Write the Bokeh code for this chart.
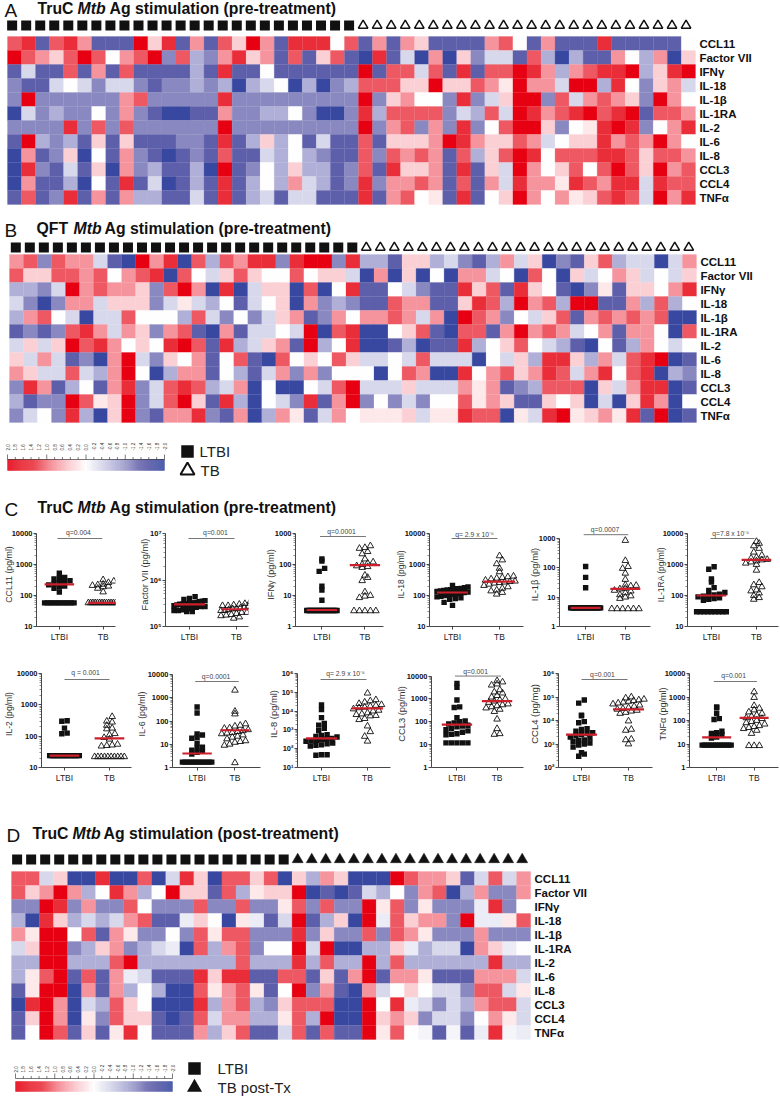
import math
import numpy as np
from bokeh.plotting import figure
from bokeh.layouts import column, row
from bokeh.models import Range1d, FixedTicker, ColumnDataSource
from bokeh.transform import linear_cmap
from bokeh.core.properties import value
from bokeh.embed import file_html
from bokeh.resources import INLINE

analytes = ["CCL11", "Factor VII", "IFN\u03b3", "IL-18", "IL-1\u03b2", "IL-1RA", "IL-2", "IL-6", "IL-8", "CCL3", "CCL4", "TNF\u03b1"]

# heat map cells; one level = 0.4 on the colour scale
A_rows = [
[3,4,-4,3,4,2,-4,-4,-4,5,1,4,-4,2,-4,3,1,5,2,-4,4,4,4,0,3,-4,2,-4,2,1,-4,-4,-4,-4,2,3,0,-4,2,-4,-4,-4,4,-4,-4,-4,-4,-4,0],
[5,3,2,1,3,5,3,0,2,3,5,-3,3,-2,-3,2,4,1,2,-4,3,-4,1,3,-4,-5,4,-4,-1,-5,2,-5,1,-3,-1,-1,-4,3,-2,-5,-2,-4,-4,2,0,-2,2,-5,1],
[-4,-1,-4,-4,3,-4,2,-4,3,-4,-4,-4,-4,-2,-4,4,-4,-4,0,-4,-4,-4,-4,-4,-4,5,-4,3,3,-1,3,-4,4,-4,3,3,5,4,2,-2,2,3,4,4,5,-2,1,4,5],
[-3,-4,-4,-1,0,-1,-3,-1,-1,-3,-4,-3,-3,-2,-3,-2,-5,-2,-1,0,-5,-2,-5,-3,-2,3,3,3,1,1,5,1,1,3,2,0.5,5,2,2,-1,5,5,-2,4,0,-3,1,2,-1],
[-3,5,-3,-3,-3,-3,-3,-3,2,3,-3,-3,-3,-3,-3,4,-3,-3,-3,-3,-3,-3,-3,-3,-3,5,-3,1,2,0,0,-3,4,-3,-1,1,5,5,-3,3,-1,2,3,2,1,-3,5,2,0],
[-5,-1,-3,-2,-3,-3,0,-3,2,-3,-4,-5,-5,-4,-4,2,-3,-3,-2,-2,0,-3,-5,-5,-3,4,-2,3,3,3,3,-3,-1,-2,3,-1,5,4,2,3,4,5,3,4,5,-4,3,3,2],
[-3,-3,-3,-3,4,-3,3,-3,3,-3,-3,-3,-3,-3,-3,5,-3,-3,-3,-3,-3,-3,-3,-3,-3,5,-3,2,3,-3,2,-3,4,-3,0,3,5,5,1,-3,0,0.5,4,5,4,-3,0,2,4],
[-4,5,-2,-3,-2,-4,1,-4,1,-4,-4,-4,-3,-3,-4,4,-4,-2,1,-2,0,-4,-1,-4,-4,3,-4,1,1,1,2,5,4,2,1,1,3,2,-1,0,1,1,4,2,3,2,5,2,0],
[-5,2,-4,-3,1,-5,0,-4,2,-3,-4,-5,-4,-3,-4,3,-4,-4,-1,-2,0,-2,-3,-4,-4,3,-3,3,2,3,2,-4,3,-2,1,3,5,4,0,3,3,3,4,4,3,1,3,3,2],
[-5,4,-3,-4,-1,-4,1,-5,2,-3,-2,-4,-4,-2,-5,5,-4,-3,0,-2,1,-2,-2,-4,-3,3,-4,4,1,1,2,-4,4,-4,1,-1,5,2,0,1,3,0,3,5,3,1,5,2,3],
[-5,2,-4,-4,-2,-5,0,-4,4,-4,-1,-5,-4,-2,-4,4,-4,-2,0,-2,2,-1,-2,-4,-3,4,-3,2,2,3,2,-4,3,-4,2,-1,4,2,2,0.5,4,3,2,4,4,-1,4,3,3],
[-4,3,-4,-3,4,-4,2,-4,2,-2,-2,-4,-4,-1,-4,4,-4,-2,-1,-4,-1,-1,-4,-4,-4,4,-4,2,3,0,0.5,-4,4,-4,0,1,5,2,0,2,0.5,1,3,4,3,-1,5,2,4],
]
B_rows = [
[2,3,-3,3,2,2,-1,-4,-5,5,2,4,-5,3,-2,3,2,4,4,-3,4,5,5,-3,4,-2,-2,-4,1,1,-2,-1,-3,-4,-2,2,-1,1,-5,-3,-4,1,3,-2,-1,-1,-5,-1,2],
[3,1,1,3,3,2,3,0,2,3,4,-5,3,0,-1,1,3,1,0,0,3,0,1,1,-1,-5,2,-5,1,-5,0,-5,2,2,-1,0,-5,3,0,-5,1,-1,0,2,1,-1,0,-1,1],
[-2,-2,-3,-1,5,2,3,2,2,1,-3,3,5,2,-5,4,-5,-1,1,1,-5,3,-5,0,4,-4,-4,0,-1,-3,-4,-4,4,1,3,-4,4,1,0,-4,-5,-3,0.5,-4,1,1,0,2,4],
[-1,-3,-5,-3,2,2,-1,1,1,1,-3,-1,0.5,-1,-2,0,-4,-1,0,1,-5,2,-3,-2,-3,-4,-4,3,2,2,-4,-4,1,4,3,-2,5,2,3,-2,5,5,-4,-4,2,-2,3,-2,0],
[-2,2,3,0,-1,-5,-1,-1,3,0,0,0,-2,3,-1,-3,0,-3,-1,1,2,-4,-3,2,0,2,2,3,2,-1,2,-5,5,3,2,-3,0,-1,1,3,-4,2,3,2,3,2,3,-5,-5],
[-4,-3,-4,-3,3,4,2,-1,2,1,-3,2,3,-4,-5,2,-4,-1,-1,0,-1,5,-5,3,4,-5,-5,0,1,3,-4,-5,3,3,-4,2,5,2,3,2,-1,0,2,-4,2,2,0,-5,3],
[-1,1,-1,1,5,3,4,2,0,1,0,4,5,3,-4,4,-2,-1,1,2,-4,5,-2,0,4,-5,-5,-4,-2,-5,-4,-4,4,-2,0,1,3,0,-1,-2,-4,-5,0,-4,-2,2,0,-1,0],
[1,-1,2,-1,-4,-3,-5,2,5,-1,-3,1,0,2,-4,0,3,-4,-5,3,0,1,0,3,1,-1,-1,0,-1,3,-1,-1,-1,-5,0,-1,1,-2,4,4,1,-2,2,-1,3,4,5,-5,-4],
[2,1,-1,-1,3,-1,-2,2,5,0,-5,-2,2,2,-4,0,-2,-4,-1,2,-3,2,-3,0,0,0,-5,0,3,2,-5,-5,4,0,2,3,1,2,4,3,-1,2,4,0,3,4,-5,-2,-3],
[-3,4,2,-4,-2,0,-4,2,4,-3,-1,3,4,3,-2,-1,2,-5,0,-5,-5,0,-1,3,5,-1,-1,-1,1,-1,-1,-1,2,0.5,2,-4,-3,-2,3,3,3,-5,1,-1,2,4,4,-5,-4],
[-2,-4,-3,-3,5,3,0.5,1,5,-3,-1,3,5,1,-4,4,-2,-5,0,-1,-3,4,-4,2,5,-3,0,-3,-1,-3,0,0,3,0.5,2,1,-4,-4,1,0,1,-5,-1,-5,1,4,2,-5,0],
[-3,-1,0,-3,4,-2,-5,1,5,-3,-4,2,2,4,-3,-4,2,-5,-2,2,0.5,-4,-1,2,0,0.5,0.5,0.5,1,-1,0.5,0.5,4,3,3,-5,0.5,-1,4,5,0.5,1,2,0.5,4,-4,5,-5,-4],
]
D_rows = [
[3,3,-1,1,-5,-5,4,-5,-5,3,-5,-1,4,1,-5,3,3,1,3,-5,1,-2,2,1,-5,-5,-5,5,3,2,2,1,-4,-1,3,-1,2],
[3,1,2,5,2,-2,0,4,2,-2,0,5,1,1,-4,3,-2,0.5,1,1,5,-5,-4,-5,-4,-1,-2,0,-3,2,3,-5,-2,2,-3,-3,2],
[-3,-3,5,4,-3,2,-3,-3,3,0,-3,-3,-3,3,-3,-3,3,-3,-3,0.5,3,-3,3,-3,-3,5,0.5,3,-3,0.5,-3,-3,-3,-0.5,4,-3,0],
[-2,-5,4,1,-2,-1,-2,-1,2,3,-4,-4,-0.5,1,0,-5,0.5,-0.5,-4,-1,5,-4,-2,1,-5,5,-0.5,3,1,2,2,-3,5,-0.5,-0.5,0.5,3],
[2,0.5,5,5,0,3,-4,2,0.5,-3,-3,0,-3,3,0.5,3,3,-3,-3,-3,4,-3,1,-3,-3,3,-3,3,2,0.5,-3,-3,-3,2,-3,-3,-3],
[-1,1,5,5,-3,-2,1,2,-3,-2,-1,-0.5,-5,3,-2,2,3,-3,0,0,5,-1,5,-5,-5,-2,-2,1,-0.5,-2,-1,-1,-5,2,1,-0.5,0],
[-2,-2,5,5,-2,-2,-2,3,5,-2,-2,-2,-2,-2,-2,-2,3,-2,-2,-2,4,-2,3,-2,-2,5,-2,3,-2,-2,-2,-2,-2,-2,4,-2,-2],
[-2,0.5,3,5,-4,3,-4,2,-0.5,-1,-4,-4,-4,4,1,4,4,-4,-4,3,3,-4,1,-4,2,5,-4,2,2,0.5,-4,-4,-4,2,2,2,-1],
[-4,0.5,5,5,-5,2,-4,2,-2,0,-2,-5,-5,3,0.5,2,3,0.5,-4,0,5,-3,2,-4,-5,2,-1,0,1,0,-1,-1,-3,3,3,-1,0.5],
[-5,4,5,2,-5,-1,-2,3,1,0,-5,-5,-5,4,-2,2,3,-2,-3,1,3,3,3,-5,-5,5,0,4,-0.5,-1,-3,-1,-2,2,3,3,-1],
[-4,1,5,2,-5,0.5,-3,3,1,1,-4,-5,-4,3,-1,2,2,-2,-2,0.5,3,-2,5,-5,-5,5,1,2,1,-3,-1,-1,-3,0,2,0.5,-1],
[-4,0,5,3,-4,1,-4,0.5,4,0,-4,-4,-4,2,-2,1,3,-4,-4,-1,3,-4,3,-4,-4,5,0.5,3,0,-0.3,-4,-0.3,-4,-0.5,4,-0.3,-0.5],
]
level_step = 0.4
scale_labels = ["2.0","1.8","1.6","1.4","1.2","1.0","0.8","0.6","0.4","0.2","0.0","-0.2","-0.4","-0.6","-0.8","-1.0","-1.2","-1.4","-1.6","-1.8","-2.0"]

# dot plots: concentrations
CCL11_L = [58]*12 + [130,170,190,200,220,240,260,280,300,340,360,380,520]
CCL11_T = [58]*14 + [130,170,190,200,210,220,230,260,290,320]
F7_L = [2.1e5,2.1e5,2.2e5,2.2e5,2.3e5,2.4e5,2.5e5,2.6e5,2.7e5,2.7e5,2.8e5,2.9e5,3.0e5,3.0e5,3.1e5,3.1e5,3.2e5,3.2e5,3.3e5,3.4e5,3.5e5,3.6e5,3.8e5,4.0e5,4.4e5]
F7_T = [1.5e5,1.6e5,1.7e5,1.75e5,1.8e5,1.9e5,2.0e5,2.0e5,2.1e5,2.2e5,2.2e5,2.3e5,2.4e5,2.4e5,2.5e5,2.6e5,2.7e5,2.7e5,2.8e5,2.8e5,2.9e5,3.0e5,3.1e5,3.5e5]
IFN_L = [3.3]*18 + [7,15,20,60,75,130,150]
IFN_T = [3.2]*5 + [8.5,9.5,10,13,30,38,45,80,85,90,100,110,120,150,220,260,330,350,400]
IL18_L = [48,60,75,80,85,90,95,100,105,110,115,120,125,130,135,140,145,150,155,160,165,170,180,190,210]
IL18_T = [110,125,140,150,170,190,210,230,250,260,270,280,290,310,340,360,380,400,420,580,750,1050,1400,1900]
IL1B_L = [4.3]*22 + [21,47,110]
IL1B_T = [4]*6 + [9,10,11,12,14,16,17,19,20,24,25,26,40,65,95,110,175,850]
IL1RA_L = [30]*9 + [70,75,80,85,90,95,100,105,110,125,145,180,270,340,700,850]
IL1RA_T = [75,85,100,120,140,150,190,220,260,650,1000,1100,1200,1300,1400,1450,1600,1700,2000,2500,3300,4000,4800,5500]
IL2_L = [24]*20 + [120,125,180,300,310]
IL2_T = [22]*10 + [48,50,52,55,80,90,110,120,170,180,220,280,300,420]
IL6_L = [1.7]*12 + [3.8,4.5,5,5.5,7,7.5,11,18,20,25,28,220,400]
IL6_T = [1.6,9,10,12,13,14,17,20,22,25,28,30,32,35,38,42,48,50,60,65,75,200,260,2100]
IL8_L = [45,48,48,140,150,160,180,200,250,260,280,300,320,350,420,450,500,550,900,1200,1800,2200,4500,12000,21000]
IL8_T = [250,450,800,1600,3500,4000,5500,5800,6500,7000,8000,10000,11000,13000,15000,16000,18000,20000,22000,25000,30000,35000,40000,90000]
CCL3_L = [12]*5 + [27,28,30,35,40,45,50,60,65,70,80,90,100,110,150,420,450,900,3200,4800]
CCL3_T = [28,30,50,130,280,350,400,450,500,550,600,700,800,900,1000,1200,1400,1800,2000,2500,4000,4500,5500,6200]
CCL4_L = [300,370,430,750,900,1000,1100,1300,1400,1500,1800,2000,2300,2500,2800,3000,3500,4200,4500,8000,9000,16000,17000,55000,75000]
CCL4_T = [1000,1500,1600,3800,4200,9500,20000,22000,25000,27000,30000,32000,35000,40000,45000,50000,55000,60000,65000,70000,75000,80000,90000,100000]
TNF_L = [9]*14 + [18,20,25,28,30,35,110,120,200,350,380]
TNF_T = [8.5,8.5,8.5,28,38,45,50,55,60,70,80,90,100,120,130,150,170,200,230,280,330,430,950,1650]

medians_L = [230,3.0e5,3.4,125,4.3,100,24,4,350,75,2500,19]
medians_T = [58,2.35e5,95,280,19,1400,85,40,14000,800,30000,130]
q_texts = ["q=0.004","q=0.001","q=0.0001","q= 2.9 x 10\u207b\u2076","q=0.0007","q=7.8 x 10\u207b\u2076",
           "q = 0.001","q=0.0001","q= 2.9 x 10\u207b\u2076","q=0.001","q=0.001","q=0.001"]
y_titles = ["CCL11 (pg/ml)","Factor VII (pg/ml)","IFN\u03b3 (pg/ml)","IL-18 (pg/ml)","IL-1\u03b2 (pg/ml)","IL-1RA (pg/ml)",
            "IL-2 (pg/ml)","IL-6 (pg/ml)","IL-8 (pg/ml)","CCL3 (pg/ml)","CCL4 (pg/mg)","TNF\u03b1 (pg/ml)"]
decades = [(1,4),(5,7),(0,3),(1,4),(0,3),(1,4),(1,4),(0,4),(1,6),(0,4),(2,6),(0,4)]
groups = ["LTBI","TB"]

FONT = value("Liberation Sans")
STOPS = [(-2,(0x38,0x48,0xA0)),(-1.6,(0x5F,0x5F,0xAA)),(-1.2,(0x8A,0x88,0xC0)),(-0.8,(0xB0,0xB0,0xD8)),(-0.4,(0xD8,0xD8,0xEC)),
         (0,(0xFF,0xFF,0xFF)),(0.4,(0xFB,0xD0,0xD5)),(0.8,(0xF6,0x95,0x9E)),(1.2,(0xEE,0x58,0x62)),(1.6,(0xE9,0x2F,0x3A)),(2,(0xE6,0x00,0x12))]
def make_palette(n=256):
    xs = [s[0] for s in STOPS]
    out = []
    for t in np.linspace(-2, 2, n):
        c = [int(round(np.interp(t, xs, [s[1][k] for s in STOPS]))) for k in range(3)]
        out.append("#%02x%02x%02x" % tuple(c))
    return out
PALETTE = make_palette()

def blank(w, h, xr, yr):
    p = figure(width=w, height=h, x_range=xr, y_range=yr, x_axis_type=None, y_axis_type=None,
               toolbar_location=None, output_backend="svg", min_border=0, outline_line_color=None,
               background_fill_color="white", border_fill_color="white")
    p.grid.visible = False
    return p

def txt(p, x, y, s, size, style="normal", align="left", color="#111111", angle=0.0):
    p.text(x=[x], y=[y], text=[s], text_font=FONT, text_font_size=size, text_font_style=style,
           text_align=align, text_baseline="middle", text_color=color, angle=angle)

def add_title(p, fx, fy, letter, lx, head, hx, mx, tail, ax, py):
    txt(p, fx(lx), fy(py+2), letter, "19px")
    txt(p, fx(hx), fy(py), head, "15.8px", "bold")
    txt(p, fx(mx), fy(py), "Mtb", "15.8px", "bold italic")
    txt(p, fx(ax), fy(py), tail, "15.8px", "bold")

def heat(rows_data, H, top, x0, y0, cw, n_left, marker_dy, mk_off, tri_fill, title, cbar=None, legend=None):
    rh = 14.0
    nc = len(rows_data[0])
    for r in rows_data:
        if len(r) != nc:
            raise ValueError("row length %d" % len(r))
    y0_rel = y0-top
    xr = Range1d(-x0/cw, (780-x0)/cw)
    yr = Range1d((H-y0_rel)/rh, -y0_rel/rh)
    p = blank(780, H, xr, yr)
    fx = lambda px: (px-x0)/cw
    fy = lambda py: (py-y0)/rh
    xs, ys, vs = [], [], []
    for ri, r in enumerate(rows_data):
        for ci, lv in enumerate(r):
            xs.append(ci+0.5); ys.append(ri+0.5); vs.append(lv*level_step)
    src = ColumnDataSource(dict(x=xs, y=ys, v=vs))
    cm = linear_cmap("v", PALETTE, -2, 2)
    p.rect(x="x", y="y", width=1, height=1, source=src, fill_color=cm, line_color=cm, line_width=0.25)
    cols = np.arange(nc)+0.5+mk_off
    my = fy(marker_dy)
    p.scatter(cols[:n_left], [my]*n_left, marker="square", size=10, fill_color="#111111", line_color=None)
    if tri_fill:
        p.scatter(cols[n_left:], [my]*(nc-n_left), marker="triangle", size=11, fill_color="#111111", line_color="#111111", line_width=0.5)
    else:
        p.scatter(cols[n_left:], [my]*(nc-n_left), marker="triangle", size=9.5, fill_color=None, line_color="#111111", line_width=1.5)
    for ri, name in enumerate(analytes):
        txt(p, nc+0.28, ri+0.55, name, "11.5px", "bold")
    add_title(p, fx, fy, *title)
    if cbar:
        bx0, bx1, b_top, b_bot, ax_y, lab_y = cbar
        grad = np.linspace(2, -2, 160)
        gw = (bx1-bx0)/cw/160
        gx = fx(bx0) + (np.arange(160)+0.5)*gw
        gsrc = ColumnDataSource(dict(x=gx, y=[fy((b_top+b_bot)/2)]*160, v=grad))
        gcm = linear_cmap("v", PALETTE, -2, 2)
        p.rect(x="x", y="y", width=gw, height=(b_bot-b_top)/rh, source=gsrc, fill_color=gcm, line_color=gcm, line_width=0.3)
        n = len(scale_labels)
        tx = [fx(bx0 + (bx1-bx0)*i/(n-1)) for i in range(n)]
        p.segment(x0=[fx(bx0)], y0=[fy(ax_y)], x1=[fx(bx1)], y1=[fy(ax_y)], line_color="#222222", line_width=0.6)
        tops = [fy(ax_y-5) if i % 5 == 0 else fy(ax_y-2.5) for i in range(n)]
        p.segment(x0=tx, y0=[fy(ax_y)]*n, x1=tx, y1=tops, line_color="#222222", line_width=0.6)
        for i, s in enumerate(scale_labels):
            txt(p, tx[i], fy(lab_y), s, "4.6px", "normal", "left", "#333333", math.pi/2)
    if legend:
        (sx, sy, tsy, lx, tri_size, tri_line, tx2, label2) = legend
        p.scatter([fx(sx)], [fy(sy)], marker="square", size=12.5, fill_color="#111111", line_color=None)
        if tri_line:
            p.scatter([fx(sx)], [fy(tsy)], marker="triangle", size=tri_size, fill_color=None, line_color="#111111", line_width=2)
        else:
            p.scatter([fx(sx)], [fy(tsy)], marker="triangle", size=tri_size, fill_color="#111111", line_color=None)
        txt(p, fx(lx), fy(sy), "LTBI", "15px", "normal", "left", "#222222")
        txt(p, fx(tx2), fy(tsy), label2, "15px", "normal", "left", "#222222")
    return p

def swarm(vals, center, D, ppd):
    vals = np.array(vals, float)
    binh = 5.5
    bins = np.floor(np.log10(vals)*ppd/binh).astype(int)
    out = np.zeros(len(vals))
    for b in set(bins.tolist()):
        idx = np.where(bins == b)[0]
        n = len(idx)
        sp = min(5.6, 31.0/(n-1)) if n > 1 else 0
        for k, i in enumerate(idx):
            out[i] = center + (k-(n-1)/2)*sp/D
    return out

SUP = {"0":"\u2070","1":"\u00b9","2":"\u00b2","3":"\u00b3","4":"\u2074","5":"\u2075","6":"\u2076","7":"\u2077"}

def dot_panel(idx, L, T, slotL, slotR, slotTop, slotBot, frameTop, ax, end, ybot, ytop, cL, cT, br0, br1, bry, qx, qy, sup, lab_size, lab_dist):
    lo_e, hi_e = decades[idx]
    ppd = (ybot-ytop)/(hi_e-lo_e)
    lo = 10.0**lo_e
    hi_ext = lo*10**((ybot-frameTop)/ppd)
    D = cT-cL
    xr = Range1d(1-(cL-ax)/D, 2+(end-cT)/D)
    yr = Range1d(lo, hi_ext)
    p = figure(width=slotR-slotL, height=slotBot-slotTop, x_range=xr, y_range=yr, y_axis_type="log",
               toolbar_location=None, output_backend="svg", outline_line_color=None,
               min_border_left=ax-slotL, min_border_right=slotR-end, min_border_top=frameTop-slotTop, min_border_bottom=slotBot-ybot,
               background_fill_color="white", border_fill_color="white")
    p.grid.visible = False
    fpx = lambda px: 1+(px-cL)/D
    fv = lambda py: lo*10**((ybot-py)/ppd)
    major = [10.0**e for e in range(lo_e, hi_e+1)]
    minor = [m*10.0**e for e in range(lo_e, hi_e) for m in range(2, 10)]
    ya = p.yaxis[0]
    ya.ticker = FixedTicker(ticks=major, minor_ticks=minor)
    ya.bounds = (major[0], major[-1])
    if sup:
        ya.major_label_overrides = {10.0**e: "10"+SUP[str(e)] for e in range(lo_e, hi_e+1)}
        lw = 13
    else:
        ya.major_label_overrides = {10.0**e: str(10**e) for e in range(lo_e, hi_e+1)}
        lw = 4.2*(hi_e+1)
    ya.major_label_text_font = "Liberation Sans"
    ya.major_label_text_font_style = "bold"
    ya.major_label_text_font_size = "7.5px"
    ya.major_label_text_color = "#111111"
    ya.major_label_standoff = 1
    ya.major_tick_out = 3; ya.major_tick_in = 0
    ya.minor_tick_out = 2; ya.minor_tick_in = 0
    ya.axis_line_color = "#333333"; ya.major_tick_line_color = "#333333"; ya.minor_tick_line_color = "#444444"
    ya.axis_line_width = 0.9; ya.major_tick_line_width = 0.9; ya.minor_tick_line_width = 0.6
    ya.axis_label = y_titles[idx]
    ya.axis_label_text_font = "Liberation Sans"
    ya.axis_label_text_font_style = "normal"
    ya.axis_label_text_font_size = "%.1fpx" % lab_size
    ya.axis_label_text_color = "#333333"
    ya.axis_label_standoff = int(round(lab_dist-lab_size/2-4-lw))
    xa = p.xaxis[0]
    xa.ticker = FixedTicker(ticks=[1, 2])
    xa.major_label_overrides = {1: groups[0], 2: groups[1]}
    xa.major_label_text_font = "Liberation Sans"
    xa.major_label_text_font_size = "8.5px"
    xa.major_label_text_color = "#222222"
    xa.major_label_standoff = 2
    xa.major_tick_out = 3; xa.major_tick_in = 0
    xa.minor_tick_line_color = None
    xa.axis_line_color = "#333333"; xa.major_tick_line_color = "#333333"
    xa.axis_line_width = 0.9; xa.major_tick_line_width = 0.9

    p.scatter(swarm(L, 1, D, ppd), L, marker="square", size=5.4, fill_color="#111111", line_color=None)
    p.scatter(swarm(T, 2, D, ppd), T, marker="triangle", size=6.6, fill_color=None, line_color="#111111", line_width=0.9)
    hw = 15.5/D
    p.segment(x0=[1-hw, 2-hw], y0=[medians_L[idx], medians_T[idx]], x1=[1+hw, 2+hw], y1=[medians_L[idx], medians_T[idx]],
              line_color="#CC1F2B", line_width=2.2)
    p.segment(x0=[fpx(br0)], y0=[fv(bry)], x1=[fpx(br1)], y1=[fv(bry)], line_color="#777777", line_width=1)
    p.text(x=[fpx(qx)], y=[fv(qy)], text=[q_texts[idx]], text_font=FONT, text_font_size="6.8px", text_align="center",
           text_baseline="middle", text_color="#444444")
    return p

# figure A
fA = heat(A_rows, 215, 0, 7, 36, 14.04, 25, 25, -0.17, False, ("A", 4, "TruC", 37, 77, "Ag stimulation (pre-treatment)", 109, 8))
# figure B
fB = heat(B_rows, 275, 215, 9, 254, 14.02, 25, 247, -0.05, False, ("B", 4, "QFT", 36, 73, "Ag stimulation (pre-treatment)", 104, 228),
          cbar=(7, 164, 459, 470, 459, 450),
          legend=(187, 451, 470, 199, 14, True, 200, "TB"))
# C heading
fCx = lambda px: px
fCy = lambda py: py-490
fC = blank(780, 30, Range1d(0, 780), Range1d(30, 0))
add_title(fC, fCx, fCy, "C", 4, "TruC", 37, 77, "Ag stimulation (pre-treatment)", 109, 507)

slots1 = [0,125,262,388,525,652,780]
slots2 = [0,133,262,392,525,654,780]
#        ax end  ybot ytop cL  cT  br0 br1 bry qx qy  sup  lab_size lab_dist
P1 = [(32,115,626,533,56,102,54,101,538,76,532,False,8.8,24),
      (165,248,626,533,189,236,188,234,538,215,532,True,9.3,19),
      (293,383,626,533,320,364,318,365,536,340,531,False,9.2,21),
      (429,523,626,533,452,499,451,497,538,474,534,False,8.5,25),
      (556,650,633,539,583,624,581,627,535,603,529,False,9.4,22),
      (683,778,626,533,708,755,707,753,538,728,533,False,8.5,23)]
P2 = [(37,131,767,673,61,108,61,108,679,83,672,False,8.6,29),
      (167,260,767,674,193,233,191,237,681,213,676,False,8.8,27),
      (297,390,767,673,321,367,320,366,679,345,673,True,9.4,21),
      (429,523,770,676,455,496,453,500,676,474,671,False,9.4,27),
      (558,652,767,673,581,628,581,627,679,602,674,True,9.5,21),
      (683,778,767,673,712,752,709,755,681,730,675,False,9.0,24)]
R1D = [(CCL11_L,CCL11_T),(F7_L,F7_T),(IFN_L,IFN_T),(IL18_L,IL18_T),(IL1B_L,IL1B_T),(IL1RA_L,IL1RA_T)]
R2D = [(IL2_L,IL2_T),(IL6_L,IL6_T),(IL8_L,IL8_T),(CCL3_L,CCL3_T),(CCL4_L,CCL4_T),(TNF_L,TNF_T)]
row1 = row(*[dot_panel(i, R1D[i][0], R1D[i][1], slots1[i], slots1[i+1], 520, 650, 522, *P1[i]) for i in range(6)], spacing=0)
row2 = row(*[dot_panel(i+6, R2D[i][0], R2D[i][1], slots2[i], slots2[i+1], 650, 815, 660, *P2[i]) for i in range(6)], spacing=0)

# figure D
fD = heat(D_rows, 283, 815, 11, 871, 14.03, 20, 859, -0.1, True, ("D", 6, "TruC", 32, 72, "Ag stimulation (post-treatment)", 103, 833),
          cbar=(15, 172, 1081, 1091, 1078, 1072),
          legend=(194, 1068, 1087, 217, 15, False, 217, "TB post-Tx"))

page = column(fA, fB, fC, row1, row2, fD, spacing=0)
open("out.html", "w").write(file_html(page, INLINE))
